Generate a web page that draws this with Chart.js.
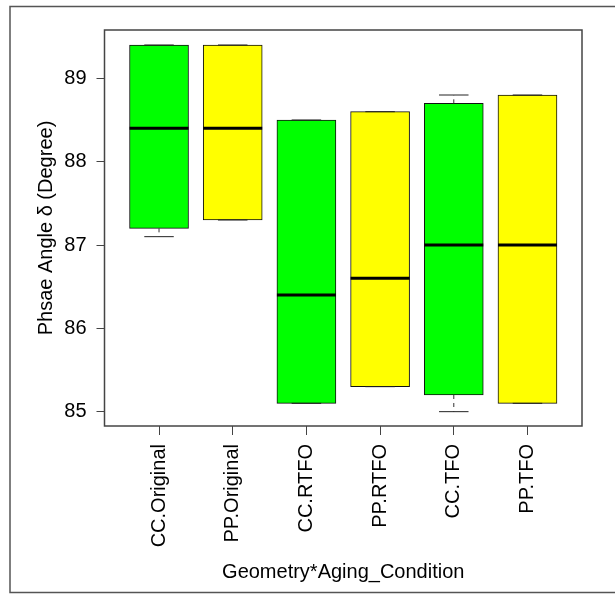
<!DOCTYPE html>
<html>
<head>
<meta charset="utf-8">
<script src="https://cdn.jsdelivr.net/npm/chart.js@4"></script>
<style>
  html, body { margin: 0; padding: 0; background: #fff; overflow: hidden; }
  #wrap { position: relative; width: 615px; height: 595px; }
</style>
</head>
<body>
<div id="wrap"><canvas id="c"></canvas></div>
<script>
// Phase angle by geometry and aging condition (box plot summary)
const categories = ['CC.Original', 'PP.Original', 'CC.RTFO', 'PP.RTFO', 'CC.TFO', 'PP.TFO'];
const whiskerLow  = [87.1, 87.3, 85.1, 85.3, 85.0, 85.1];
const quartile1   = [87.2, 87.3, 85.1, 85.3, 85.2, 85.1];
const medians     = [88.4, 88.4, 86.4, 86.6, 87.0, 87.0];
const quartile3   = [89.4, 89.4, 88.5, 88.6, 88.7, 88.8];
const whiskerHigh = [89.4, 89.4, 88.5, 88.6, 88.8, 88.8];
const boxColors   = ['#00FF00', '#FFFF00', '#00FF00', '#FFFF00', '#00FF00', '#FFFF00'];
const yTickValues = [85, 86, 87, 88, 89];

const FONT = "'Liberation Sans', Arial, sans-serif";
const BOX_HALF = 0.4;    // half box width in category units
const CAP_HALF = 0.2;    // half whisker-cap width in category units

// outer figure frame
const framePlugin = {
  id: 'frame',
  beforeDraw(chart) {
    const ctx = chart.ctx;
    ctx.save();
    ctx.fillStyle = '#fff';
    ctx.fillRect(0, 0, chart.width, chart.height);
    ctx.strokeStyle = '#555';
    ctx.lineWidth = 1.5;
    ctx.strokeRect(10, 6.5, 700, 586);
    ctx.restore();
  }
};

// whiskers, caps, medians and plot box
const boxPlotPlugin = {
  id: 'boxplotExtras',
  afterDatasetsDraw(chart) {
    const ctx = chart.ctx;
    const xs = chart.scales.x, ys = chart.scales.y;
    ctx.save();
    categories.forEach((_, i) => {
      const pos = i + 1;
      const xc = xs.getPixelForValue(pos);
      const bl = xs.getPixelForValue(pos - BOX_HALF), br = xs.getPixelForValue(pos + BOX_HALF);
      const cl = xs.getPixelForValue(pos - CAP_HALF), cr = xs.getPixelForValue(pos + CAP_HALF);
      const yLo = ys.getPixelForValue(whiskerLow[i]);
      const yQ1 = ys.getPixelForValue(quartile1[i]);
      const yQ3 = ys.getPixelForValue(quartile3[i]);
      const yHi = ys.getPixelForValue(whiskerHigh[i]);
      const yMed = ys.getPixelForValue(medians[i]);

      // dashed whiskers
      ctx.strokeStyle = '#333';
      ctx.lineWidth = 1;
      ctx.setLineDash([4, 4]);
      ctx.beginPath();
      if (yLo - yQ1 > 0.5) { ctx.moveTo(xc, yQ1); ctx.lineTo(xc, yLo); }
      if (yQ3 - yHi > 0.5) { ctx.moveTo(xc, yQ3); ctx.lineTo(xc, yHi); }
      ctx.stroke();
      ctx.setLineDash([]);

      // caps
      ctx.strokeStyle = '#222';
      ctx.beginPath();
      ctx.moveTo(cl, yLo); ctx.lineTo(cr, yLo);
      ctx.moveTo(cl, yHi); ctx.lineTo(cr, yHi);
      ctx.stroke();

      // median
      ctx.strokeStyle = '#000';
      ctx.lineWidth = 3;
      ctx.beginPath();
      ctx.moveTo(bl, yMed); ctx.lineTo(br, yMed);
      ctx.stroke();
    });

    const a = chart.chartArea;
    ctx.strokeStyle = '#444';
    ctx.lineWidth = 1.5;
    ctx.strokeRect(a.left, a.top, a.right - a.left, a.bottom - a.top);
    ctx.restore();
  }
};

new Chart(document.getElementById('c'), {
  type: 'bar',
  data: {
    datasets: [{
      data: categories.map((_, i) => ({ x: i + 1, y: [quartile1[i], quartile3[i]] })),
      backgroundColor: boxColors,
      borderColor: '#111',
      borderWidth: 1,
      borderSkipped: false,
      barThickness: 59
    }]
  },
  options: {
    responsive: true,
    maintainAspectRatio: false,
    animation: false,
    events: [],
    layout: { padding: { left: 0, top: 30, right: 33, bottom: 0 } },
    plugins: { legend: { display: false }, tooltip: { enabled: false } },
    scales: {
      x: {
        type: 'linear',
        offset: false,
        min: 0.26,
        max: 6.74,
        afterBuildTicks(scale) { scale.ticks = categories.map((_, i) => ({ value: i + 1 })); },
        afterFit(scale) { scale.height = 169; },
        ticks: {
          autoSkip: false,
          minRotation: 90,
          maxRotation: 90,
          padding: 9,
          color: '#000',
          font: { family: FONT, size: 20 },
          callback: (v) => categories[Math.round(v) - 1]
        },
        grid: { offset: false, drawOnChartArea: false, drawTicks: true, tickLength: 9, color: '#444' },
        border: { display: false },
        title: {
          display: true,
          text: 'Geometry*Aging_Condition',
          color: '#000',
          font: { family: FONT, size: 20 },
          padding: { top: 0, bottom: 11 }
        }
      },
      y: {
        type: 'linear',
        min: 84.828,
        max: 89.58,
        afterBuildTicks(scale) { scale.ticks = yTickValues.map(v => ({ value: v })); },
        afterFit(scale) { scale.width = 104.5; },
        ticks: {
          padding: 10,
          color: '#000',
          font: { family: FONT, size: 20 },
          callback: (v) => String(v)
        },
        grid: { drawOnChartArea: false, drawTicks: true, tickLength: 8, color: '#444' },
        border: { display: false },
        title: {
          display: true,
          text: 'Phsae Angle δ (Degree)',
          color: '#000',
          font: { family: FONT, size: 20 },
          padding: { top: 34, bottom: 0 }
        }
      }
    }
  },
  plugins: [framePlugin, boxPlotPlugin]
});
</script>
</body>
</html>
